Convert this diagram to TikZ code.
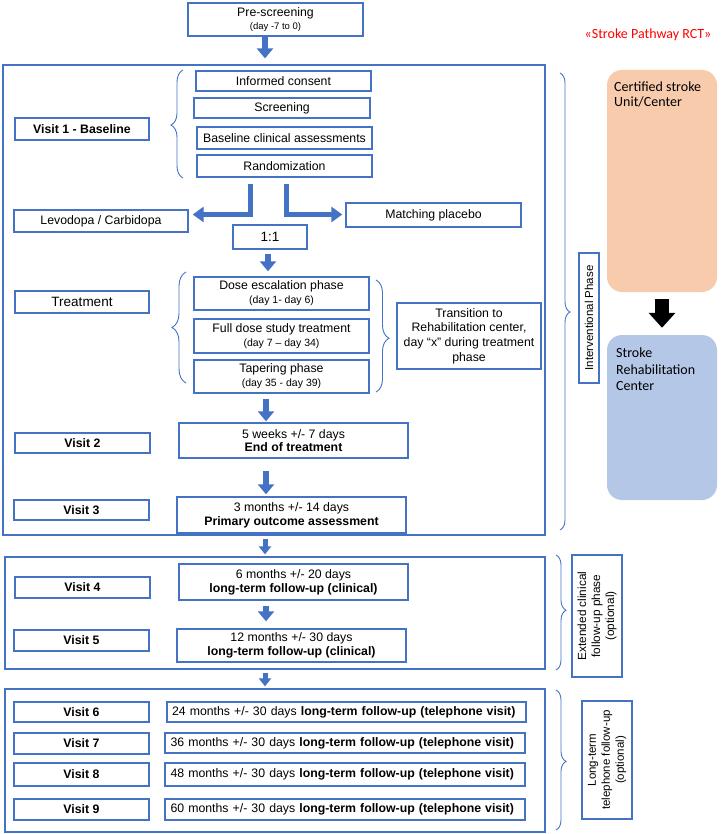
\documentclass[tikz,border=0pt]{standalone}
\usepackage{fontspec}
\setmainfont{Liberation Sans}
\newfontfamily\calfont{Carlito}
\usetikzlibrary{arrows.meta,decorations.pathreplacing,fit}
\definecolor{bl}{HTML}{4472C4}
\definecolor{orf}{HTML}{F8CBAD}
\definecolor{blf}{HTML}{B4C7E7}
\begin{document}
\begin{tikzpicture}[x=1pt,y=-1pt,
  cr/.style n args={4}{at={({(#1+#3)/2},{(#2+#4)/2})}, minimum width={#3-#1}, minimum height={#4-#2}},
  bx/.style={draw=bl, line width=1.4pt, fill=white, inner sep=0pt, align=center, font=\fontsize{12.3}{13.8}\selectfont},
  ob/.style={draw=bl, line width=1.2pt, inner sep=0pt},
  vb/.style={bx, font=\fontsize{12.3}{13.8}\selectfont\bfseries},
  tel/.style={bx, text width=349pt, align=left},
  blk/.style={draw=bl, line width=6.5pt, -{Triangle[length=10pt,width=16pt]}, line join=miter},
  blks/.style={draw=bl, line width=5pt, -{Triangle[length=8pt,width=12pt]}},
  blkm/.style={draw=bl, line width=5pt, -{Triangle[length=11pt,width=15pt]}, line join=miter},
  brc/.style={draw=bl, line width=0.9pt, decorate, decoration={brace, amplitude=#1}},
  rb/.style={inner sep=0pt, rounded corners=15pt},
]
\useasboundingbox (0,0) rectangle (724,834);

% outer phase boxes
\node[ob, fit={(3,65)(545,535)}] (o1) {};
\node[ob, fit={(5,557)(545,669)}] (o2) {};
\node[ob, fit={(5,689)(545,832)}] (o3) {};

% pre-screening
\node[bx, cr={188}{3}{363}{36}] (pre) {Pre-screening\\[-1pt]{\fontsize{9.5}{11}\selectfont (day -7 to 0)}};

% visit 1 block
\node[vb, cr={15}{118}{149}{140}] (v1) {Visit 1 - Baseline};
\node[bx, cr={196}{71}{371}{91}] (ic) {Informed consent};
\node[bx, cr={194}{98}{370}{118}] (sc) {Screening};
\node[bx, cr={197}{127}{372}{149}] (bca) {Baseline clinical assessments};
\node[bx, cr={197}{155}{372}{177}] (rnd) {Randomization};

% arms
\node[bx, cr={14}{210}{188}{232}] (levo) {Levodopa / Carbidopa};
\node[bx, cr={346}{203}{521}{227}] (plac) {Matching placebo};
\node[bx, cr={233}{225}{307}{249}, font=\fontsize{13.5}{15}\selectfont] (ratio) {1:1};

% treatment
\node[bx, cr={15}{291}{149}{313}, font=\fontsize{13.5}{15}\selectfont] (trt) {Treatment};
\node[bx, cr={194}{277}{369}{310}] (dose) {Dose escalation phase\\{\fontsize{10.5}{12}\selectfont (day 1- day 6)}};
\node[bx, cr={194}{319}{369}{353}] (full) {Full dose study treatment\\{\fontsize{10.5}{12}\selectfont (day 7 -- day 34)}};
\node[bx, cr={194}{360}{369}{393}] (tap) {Tapering phase\\{\fontsize{10.5}{12}\selectfont (day 35 - day 39)}};
\node[bx, cr={397}{303}{541}{369}, font=\fontsize{12.3}{14.7}\selectfont] (trans) {Transition to\\Rehabilitation center,\\day “x” during treatment\\phase};

% visits 2,3
\node[vb, cr={15}{433}{150}{453}] (v2) {Visit 2};
\node[bx, cr={179}{423}{408}{458}] (eot) {5 weeks +/- 7 days\\\textbf{End of treatment}};
\node[vb, cr={14}{500}{149}{520}] (v3) {Visit 3};
\node[bx, cr={177}{497}{406}{533}] (poa) {3 months +/- 14 days\\\textbf{Primary outcome assessment}};

% visits 4,5
\node[vb, cr={15}{577}{150}{598}] (v4) {Visit 4};
\node[bx, cr={179}{564}{408}{600}] (f6) {6 months +/- 20 days\\\textbf{long-term follow-up (clinical)}};
\node[vb, cr={14}{630}{149}{651}] (v5) {Visit 5};
\node[bx, cr={177}{629}{406}{662}] (f12) {12 months +/- 30 days\\\textbf{long-term follow-up (clinical)}};

% visits 6-9
\node[vb, cr={14}{702}{149}{722}] (v6) {Visit 6};
\node[tel, cr={167}{702}{526}{722}] (t24) {24 months +/- 30 days \textbf{long-term follow-up (telephone visit)}};
\node[vb, cr={14}{733}{149}{754}] (v7) {Visit 7};
\node[tel, cr={165}{733}{525}{753}] (t36) {36 months +/- 30 days \textbf{long-term follow-up (telephone visit)}};
\node[vb, cr={14}{763}{149}{786}] (v8) {Visit 8};
\node[tel, cr={165}{763}{525}{786}] (t48) {48 months +/- 30 days \textbf{long-term follow-up (telephone visit)}};
\node[vb, cr={14}{799}{149}{820}] (v9) {Visit 9};
\node[tel, cr={165}{799}{525}{820}] (t60) {60 months +/- 30 days \textbf{long-term follow-up (telephone visit)}};

% phase labels
\node[bx, rotate=90, minimum width=130pt, minimum height=20pt, font=\fontsize{11.5}{13}\selectfont] (ip) at (589,318) {Interventional Phase};
\node[bx, rotate=90, minimum width=122pt, minimum height=50pt, font=\fontsize{11.8}{14}\selectfont] (ep) at (597,616) {Extended clinical\\follow-up phase\\(optional)};
\node[bx, rotate=90, minimum width=118pt, minimum height=50pt, font=\fontsize{11.5}{14}\selectfont] (lp) at (607,760) {Long-term\\telephone follow-up\\(optional)};

% braces
\draw[brc=10pt, decoration={aspect=0.523}] (560,73) -- (560,530);
\draw[brc=10pt, decoration={aspect=0.48}] (556,555) -- (556,670);
\draw[brc=10pt, decoration={aspect=0.51}] (556,690) -- (556,830);
\draw[brc=12pt, decoration={aspect=0.49}] (183,178) -- (183,70);
\draw[brc=14pt, decoration={aspect=0.5}] (186,383) -- (186,272);
\draw[brc=13pt, decoration={aspect=0.52}] (376,280) -- (376,392);

% right side
\node[text=red, font=\calfont\fontsize{14}{16}\selectfont] (title) at (648,35) {«Stroke Pathway RCT»};
\node[rb, fill=orf, fit={(607,70)(717,292)}] (cu) {};
\node[rb, fill=blf, fit={(607,335)(717,500)}] (rc) {};
\node[anchor=west, inner sep=0pt, align=left, font=\calfont\fontsize{14}{15}\selectfont] (cut) at (614,94) {Certified stroke\\Unit/Center};
\node[anchor=west, inner sep=0pt, align=left, font=\calfont\fontsize{14}{16.5}\selectfont] (rct) at (616,369.5) {Stroke\\Rehabilitation\\Center};
\draw[black, line width=14pt, -{Triangle[length=15pt,width=26pt]}, shorten <=7pt, shorten >=7pt] (cu.south) -- (rc.north);

% connectors
\coordinate (xa) at (265,0);
\coordinate (xb) at (268,0);
\coordinate (xc) at (266,0);
\coordinate (sl) at (250,214.5);
\coordinate (sr) at (286.5,214.5);
\draw[blk, shorten >=6pt] (pre.south -| xa) -- (o1.north -| xa);
\draw[blkm, shorten <=6pt, shorten >=4pt] (rnd.south -| sl) -- (sl) -- (levo.east |- sl);
\draw[blkm, shorten <=6pt, shorten >=3pt] (rnd.south -| sr) -- (sr) -- (plac.west |- sr);
\draw[blk, shorten <=4pt, shorten >=5pt] (ratio.south -| xb) -- (dose.north -| xb);
\draw[blk, shorten <=5pt, shorten >=1pt] (tap.south -| xc) -- (eot.north -| xc);
\draw[blk, shorten <=12pt, shorten >=2pt] (eot.south -| xc) -- (poa.north -| xc);
\draw[blks, shorten <=3pt, shorten >=2pt] (o1.south -| xa) -- (o2.north -| xa);
\draw[blk, shorten <=5pt, shorten >=7pt] (f6.south -| xc) -- (f12.north -| xc);
\draw[blks, shorten <=3pt, shorten >=2pt] (o2.south -| xa) -- (o3.north -| xa);
\end{tikzpicture}
\end{document}
